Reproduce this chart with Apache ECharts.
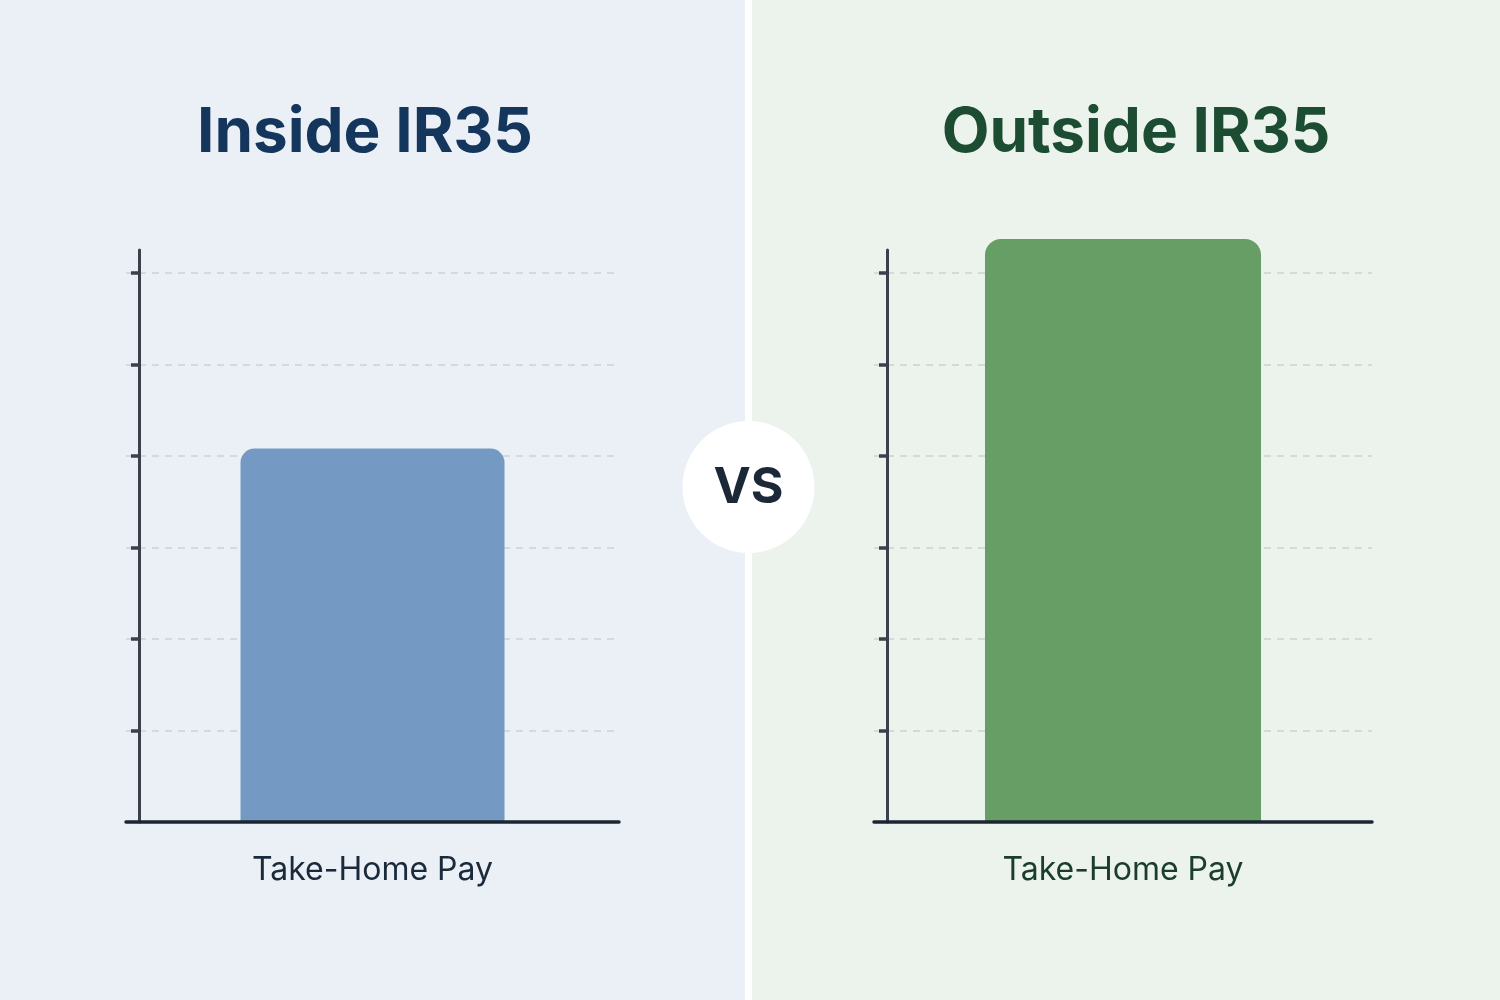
<!DOCTYPE html>
<html><head><meta charset="utf-8">
<script src="https://cdn.jsdelivr.net/npm/echarts@6/dist/echarts.min.js"></script>
<style>html,body{margin:0;padding:0;}#c{width:1500px;height:1000px;}</style>
</head><body><div id="c"></div>
<script>
const categories = ['Take-Home Pay'];
const insideValues = [4.08];
const outsideValues = [6.37];
const tickValues = [1, 2, 3, 4, 5, 6];
const panelTitles = ['Inside IR35', 'Outside IR35'];
const vsText = 'VS';

const chart = echarts.init(document.getElementById('c'), null, {renderer: 'canvas'});
const FONT = 'Inter, "Noto Sans", sans-serif';

function yAxisFor(gridIndex) {
  return {
    type: 'value', gridIndex: gridIndex, min: 0, max: 6.25, interval: 1,
    offset: -13,
    axisLine: {show: true, lineStyle: {color: '#3b404a', width: 3}},
    axisTick: {show: true, length: 8, customValues: tickValues, lineStyle: {color: '#3b404a', width: 3.5}},
    axisLabel: {show: false, customValues: tickValues},
    splitLine: {show: true, lineStyle: {color: '#cbd1d8', width: 1.6, type: [7, 6]}}
  };
}
function xAxisFor(gridIndex, labelColor) {
  return {
    type: 'category', gridIndex: gridIndex, data: categories, z: 5,
    axisLine: {show: true, lineStyle: {color: '#1c2633', width: 3.5}},
    axisTick: {show: false},
    axisLabel: {color: labelColor, fontFamily: FONT, fontSize: 32, margin: 32}
  };
}

chart.setOption({
  backgroundColor: '#ebf0f7',
  animation: false,
  graphic: [
    {type: 'rect', shape: {x: 0, y: 0, width: 748, height: 1000}, style: {fill: '#ebf0f7'}, z: -10},
    {type: 'rect', shape: {x: 748, y: 0, width: 752, height: 1000}, style: {fill: '#ecf2ec'}, z: -10},
    {type: 'rect', shape: {x: 745, y: 0, width: 7, height: 1000}, style: {fill: '#ffffff'}, z: -9},
    {type: 'circle', shape: {cx: 748.5, cy: 487, r: 66}, style: {fill: '#ffffff'}, z: 10},
    {type: 'text', x: 748.5, y: 488, z: 11,
     style: {text: vsText, fill: '#1b2838', font: 'bold 50px ' + FONT, align: 'center', verticalAlign: 'middle'}}
  ],
  title: [
    {text: panelTitles[0], left: 360, top: 97, textAlign: 'center',
     textStyle: {color: '#14365c', fontFamily: FONT, fontWeight: 'bold', fontSize: 62}},
    {text: panelTitles[1], left: 1131, top: 97, textAlign: 'center',
     textStyle: {color: '#1c4d33', fontFamily: FONT, fontWeight: 'bold', fontSize: 62}}
  ],
  grid: [
    {left: 126, right: 881, top: 250, bottom: 178},
    {left: 874, right: 128, top: 250, bottom: 178}
  ],
  xAxis: [xAxisFor(0, '#1b2a3a'), xAxisFor(1, '#1b3d2c')],
  yAxis: [yAxisFor(0), yAxisFor(1)],
  series: [
    {type: 'bar', xAxisIndex: 0, yAxisIndex: 0, data: insideValues, barWidth: 264, clip: false,
     itemStyle: {color: '#7499c2', borderRadius: [14, 14, 0, 0]}},
    {type: 'bar', xAxisIndex: 1, yAxisIndex: 1, data: outsideValues, barWidth: 276, clip: false,
     itemStyle: {color: '#669e66', borderRadius: [16, 16, 0, 0]}}
  ]
});
</script></body></html>
